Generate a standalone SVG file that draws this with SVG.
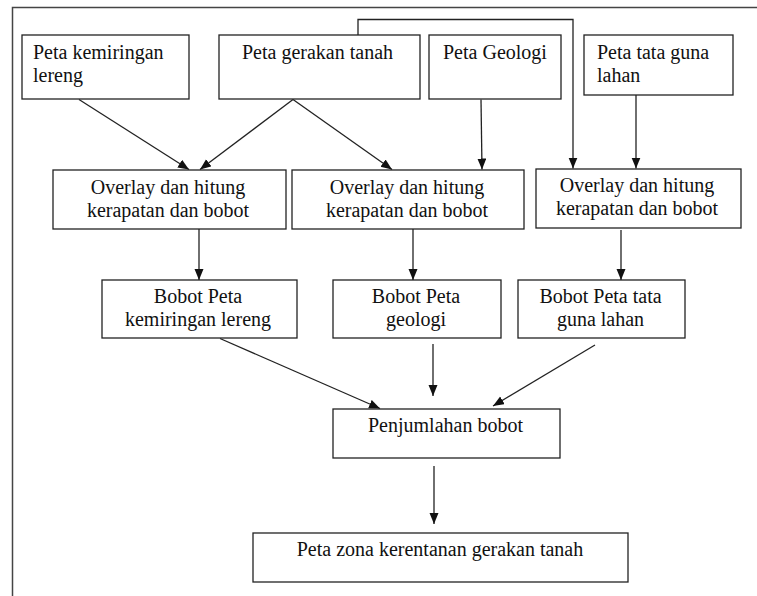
<svg xmlns="http://www.w3.org/2000/svg" width="757" height="596" viewBox="0 0 757 596">
<style>
.box{fill:#fff;stroke:#222;stroke-width:1.3}
.t{font-family:"Liberation Serif","Times New Roman",serif;font-size:20px;fill:#111}
.c{text-anchor:middle}
.ln{fill:none;stroke:#222;stroke-width:1.3}
</style>
<defs>
<marker id="ah" markerUnits="userSpaceOnUse" markerWidth="12" markerHeight="10" refX="11" refY="4.5" orient="auto">
<path d="M0,0 L11,4.5 L0,9 z" fill="#111"/>
</marker>
</defs>
<rect width="757" height="596" fill="#fff"/>
<path d="M12.5,600 V7.5 H760" fill="none" stroke="#444" stroke-width="1.5"/>
<g id="connectors">
<path class="ln" d="M79,99.5 L189,169.5" marker-end="url(#ah)"/>
<path class="ln" d="M293,99.5 L200,169.5" marker-end="url(#ah)"/>
<path class="ln" d="M293,99.5 L392,169.5" marker-end="url(#ah)"/>
<path class="ln" d="M481,99.5 L482,169.5" marker-end="url(#ah)"/>
<path class="ln" d="M358,35 V19.5 H573 V168.5" marker-end="url(#ah)"/>
<path class="ln" d="M636,95 V168.5" marker-end="url(#ah)"/>
<path class="ln" d="M199,229 V280" marker-end="url(#ah)"/>
<path class="ln" d="M413,229 V280" marker-end="url(#ah)"/>
<path class="ln" d="M621,230 V280" marker-end="url(#ah)"/>
<path class="ln" d="M220,338.5 L380,408.5" marker-end="url(#ah)"/>
<path class="ln" d="M433,344 V396" marker-end="url(#ah)"/>
<path class="ln" d="M595,345 L493,406" marker-end="url(#ah)"/>
<path class="ln" d="M434,466 V524" marker-end="url(#ah)"/>
</g>
<g id="n-kemiringan">
<rect class="box" x="22" y="35" width="167" height="64"/>
<text class="t" x="33" y="59">Peta kemiringan</text>
<text class="t" x="33" y="82">lereng</text>
</g>
<g id="n-gerakan">
<rect class="box" x="219" y="35" width="201" height="64"/>
<text class="t" x="242" y="59">Peta gerakan tanah</text>
</g>
<g id="n-geologi">
<rect class="box" x="429" y="35" width="132" height="64"/>
<text class="t" x="443" y="59">Peta Geologi</text>
</g>
<g id="n-tataguna">
<rect class="box" x="584" y="35" width="149" height="60"/>
<text class="t" x="597" y="59">Peta tata guna</text>
<text class="t" x="597" y="82">lahan</text>
</g>
<g id="n-overlay1">
<rect class="box" x="53" y="170" width="233" height="59"/>
<text class="t c" x="168" y="194">Overlay dan hitung</text>
<text class="t c" x="168" y="217">kerapatan dan bobot</text>
</g>
<g id="n-overlay2">
<rect class="box" x="292" y="170" width="232" height="59"/>
<text class="t c" x="407" y="194">Overlay dan hitung</text>
<text class="t c" x="407" y="217">kerapatan dan bobot</text>
</g>
<g id="n-overlay3">
<rect class="box" x="536" y="169" width="205" height="59"/>
<text class="t c" x="637" y="192">Overlay dan hitung</text>
<text class="t c" x="637" y="215">kerapatan dan bobot</text>
</g>
<g id="n-bobot1">
<rect class="box" x="102" y="280" width="195" height="58"/>
<text class="t c" x="198" y="303">Bobot Peta</text>
<text class="t c" x="198" y="326">kemiringan lereng</text>
</g>
<g id="n-bobot2">
<rect class="box" x="333" y="280" width="168" height="58"/>
<text class="t c" x="416" y="303">Bobot Peta</text>
<text class="t c" x="416" y="326">geologi</text>
</g>
<g id="n-bobot3">
<rect class="box" x="518" y="280" width="167" height="58"/>
<text class="t c" x="600.5" y="303">Bobot Peta tata</text>
<text class="t c" x="600.5" y="326">guna lahan</text>
</g>
<g id="n-penjumlahan">
<rect class="box" x="333" y="409" width="227" height="49"/>
<text class="t c" x="445.5" y="432">Penjumlahan bobot</text>
</g>
<g id="n-zona">
<rect class="box" x="253" y="533" width="375" height="49"/>
<text class="t c" x="440" y="556">Peta zona kerentanan gerakan tanah</text>
</g>
</svg>
